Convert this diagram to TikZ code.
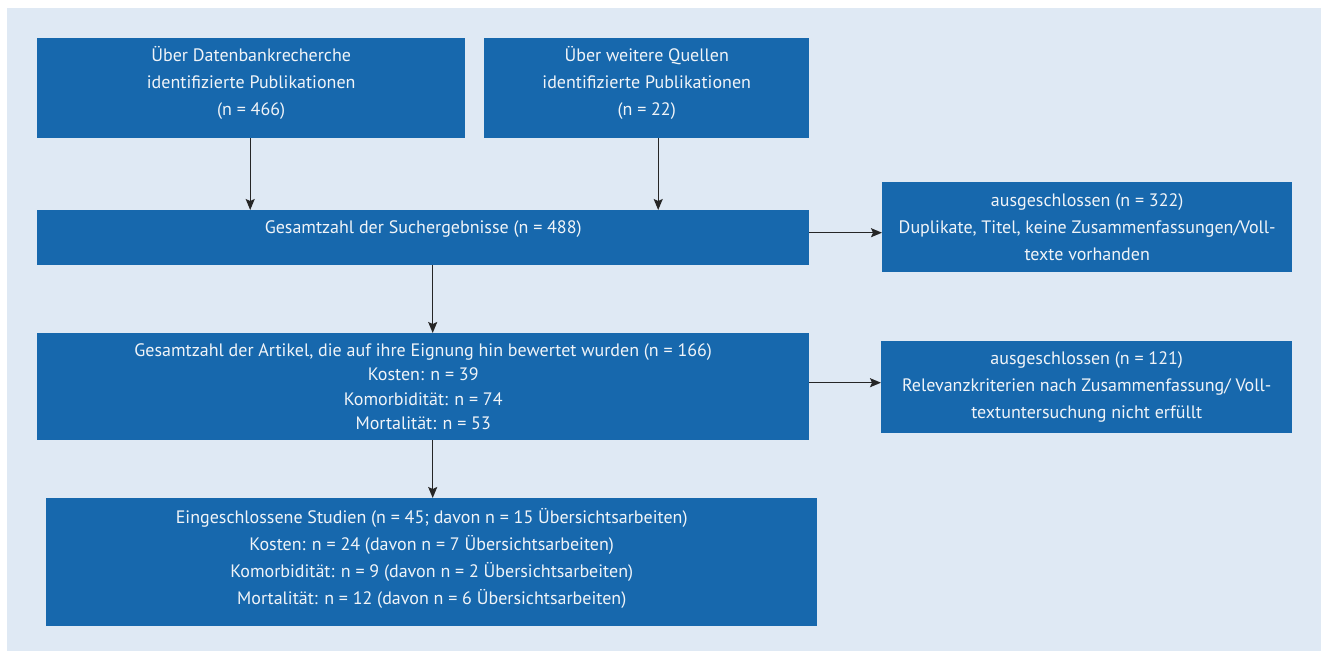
\documentclass[tikz,border=0pt]{standalone}
\usepackage{fontspec}
\setmainfont{PT Sans}
\usepackage{xcolor}
\usepackage{tikz}
\usetikzlibrary{arrows.meta,positioning,calc}
\definecolor{pn}{HTML}{DFE9F4}
\definecolor{bx}{HTML}{1768AD}
\definecolor{tx}{HTML}{F0F4F8}
\definecolor{ln}{HTML}{262626}

\tikzset{
  box/.style={fill=bx, text=tx, anchor=north west, align=center, inner sep=0pt,
    font=\fontsize{18}{27}\selectfont},
  arr/.style={draw=ln, line width=1.3pt, -{Stealth[length=11pt,width=9pt,inset=2pt]}}
}

\begin{document}
\begin{tikzpicture}[x=1pt,y=-1pt]
  \useasboundingbox (0,0) rectangle (1321,651);
  \fill[pn] (7,8) rectangle (1321,651);

  \node[box, minimum width=428, minimum height=100, text depth=14pt] (srcdb) at (37,38) {%
    Über Datenbankrecherche\\identifizierte Publikationen\\(n = 466)};
  \node[box, minimum width=325, minimum height=100, text depth=14pt] (srcoth) at (484,38) {%
    Über weitere Quellen\\identifizierte Publikationen\\(n = 22)};
  \node[box, minimum width=772, minimum height=55, text depth=22pt] (total) at (37,210) {%
    Gesamtzahl der Suchergebnisse (n = 488)};
  \node[box, minimum width=410, minimum height=90] (excla) at (882,182) {%
    ausgeschlossen (n = 322)\\Duplikate, Titel, keine Zusammenfassungen/Voll-\\texte vorhanden};
  \node[box, minimum width=772, minimum height=107, font=\fontsize{18}{24.3}\selectfont] (screened) at (37,333) {%
    Gesamtzahl der Artikel, die auf ihre Eignung hin bewertet wurden (n = 166)\\
    Kosten: n = 39\\Komorbidität: n = 74\\Mortalität: n = 53};
  \node[box, minimum width=411, minimum height=92] (exclb) at (881,341) {%
    ausgeschlossen (n = 121)\\Relevanzkriterien nach Zusammenfassung/ Voll-\\textuntersuchung nicht erfüllt};
  \node[box, minimum width=771, minimum height=128, text depth=12pt] (included) at (46,498) {%
    Eingeschlossene Studien (n = 45; davon n = 15 Übersichtsarbeiten)\\
    Kosten: n = 24 (davon n = 7 Übersichtsarbeiten)\\
    Komorbidität: n = 9 (davon n = 2 Übersichtsarbeiten)\\
    Mortalität: n = 12 (davon n = 6 Übersichtsarbeiten)};

  % connectors
  \draw[arr] ([xshift=-1pt]srcdb.south) -- ([xshift=-1pt]srcdb.south |- total.north);
  \draw[arr] ([xshift=11.5pt]srcoth.south) -- ([xshift=11.5pt]srcoth.south |- total.north);
  \draw[arr] ([yshift=5pt]total.east) -- ([yshift=5pt]total.east -| excla.west);
  \draw[arr] ([xshift=9.5pt]total.south) -- ([xshift=9.5pt]total.south |- screened.north);
  \draw[arr] ([yshift=4pt]screened.east) -- ([yshift=4pt]screened.east -| exclb.west);
  \draw[arr] ([xshift=9.5pt]screened.south) -- ([xshift=9.5pt]screened.south |- included.north);
\end{tikzpicture}
\end{document}
